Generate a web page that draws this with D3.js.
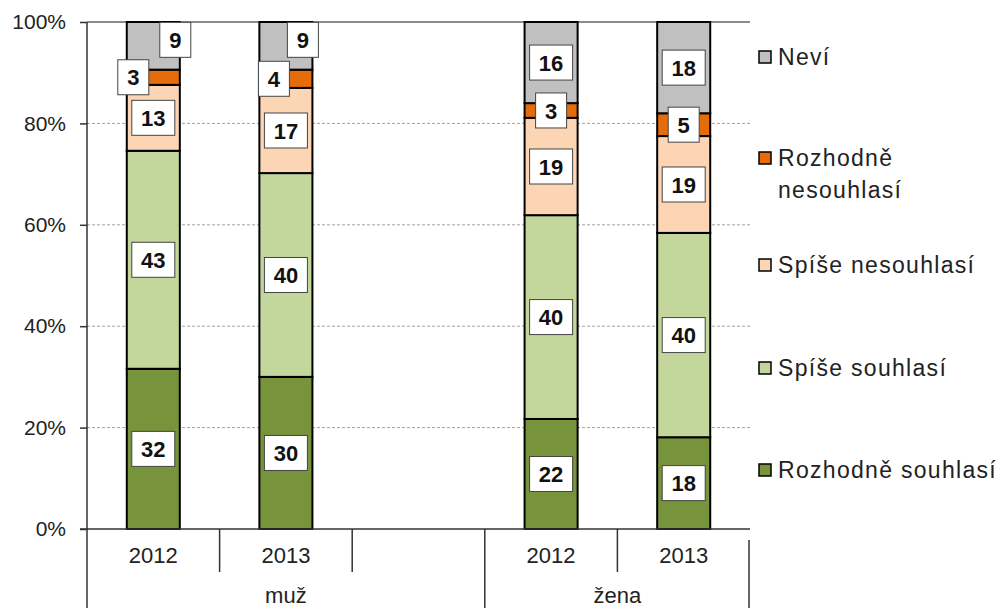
<!DOCTYPE html>
<html>
<head>
<meta charset="utf-8">
<script src="https://cdn.jsdelivr.net/npm/d3@7"></script>
<style>
  body { margin: 0; background: #fff; }
  text { font-family: "Liberation Sans", Arial, sans-serif; }
</style>
</head>
<body>
<svg id="chart" width="1003" height="608"></svg>
<script>
// categories
const groups = ['muž', 'žena'];
const years = ['2012', '2013'];
const slots = ['muž 2012', 'muž 2013', 'gap', 'žena 2012', 'žena 2013'];
const barSlots = ['muž 2012', 'muž 2013', 'žena 2012', 'žena 2013'];

// series (bottom to top), percent values per bar
const seriesNames = ['Rozhodně souhlasí', 'Spíše souhlasí', 'Spíše nesouhlasí', 'Rozhodně nesouhlasí', 'Neví'];
const rozhodneSouhlasi = [31.6, 30.0, 21.7, 18.1];
const spiseSouhlasi = [43.0, 40.2, 40.2, 40.3];
const spiseNesouhlasi = [13.0, 16.8, 19.2, 19.1];
const rozhodneNesouhlasi = [3.0, 3.6, 2.9, 4.5];
const nevi = [9.4, 9.4, 16.0, 18.0];
const seriesValues = [rozhodneSouhlasi, spiseSouhlasi, spiseNesouhlasi, rozhodneNesouhlasi, nevi];
const colors = ['#77933C', '#C3D69B', '#FCD5B5', '#E46C0A', '#C0C0C0'];

const yTicks = [0, 20, 40, 60, 80, 100];

// manual nudges for small labels that Excel moved aside: [series][bar] -> [dx, dy]
const nudges = { '4-0': [22, -6], '3-0': [-20, 0], '4-1': [17, -6], '3-1': [-12, 0] };

const svg = d3.select('#chart');
const plotLeft = 87, plotRight = 750, plotTop = 22, plotBottom = 529;

const x = d3.scaleBand().domain(slots).range([plotLeft, plotRight]).paddingInner(0.6).paddingOuter(0.3);
const y = d3.scaleLinear().domain([0, 100]).range([plotBottom, plotTop]);

// gridlines
svg.append('g')
  .selectAll('line')
  .data(yTicks.filter(t => t > 0 && t < 100))
  .enter().append('line')
  .attr('x1', plotLeft).attr('x2', plotRight)
  .attr('y1', d => y(d)).attr('y2', d => y(d))
  .attr('stroke', '#a0a0a0').attr('stroke-width', 1).attr('stroke-dasharray', '3,2');

svg.append('line')
  .attr('x1', plotLeft).attr('x2', plotRight)
  .attr('y1', y(100)).attr('y2', y(100))
  .attr('stroke', '#8c8c8c').attr('stroke-width', 2);

// y axis
const yAxis = svg.append('g')
  .attr('transform', `translate(${plotLeft},0)`)
  .call(d3.axisLeft(y).tickValues(yTicks).tickFormat(d => d + '%').tickSize(7).tickPadding(14));
yAxis.select('.domain').remove();
yAxis.selectAll('.tick line').attr('stroke', '#333').attr('stroke-width', 1.5);
yAxis.selectAll('.tick text').attr('font-size', 21).attr('fill', '#222')
  .attr('font-family', '"Liberation Sans", Arial, sans-serif');

svg.append('line')
  .attr('x1', plotLeft).attr('x2', plotLeft).attr('y1', plotTop).attr('y2', 608)
  .attr('stroke', '#333').attr('stroke-width', 1.5);

// stacked bars
const stacked = barSlots.map((slot, bi) => {
  let acc = 0;
  return seriesValues.map((vals, si) => {
    const seg = { slot, bi, si, y0: acc, y1: acc + vals[bi], v: vals[bi] };
    acc += vals[bi];
    return seg;
  });
}).flat();

svg.append('g')
  .selectAll('rect')
  .data(stacked)
  .enter().append('rect')
  .attr('x', d => x(d.slot))
  .attr('width', x.bandwidth())
  .attr('y', d => y(d.y1))
  .attr('height', d => y(d.y0) - y(d.y1))
  .attr('fill', d => colors[d.si])
  .attr('stroke', '#000').attr('stroke-width', 2);

// baseline
svg.append('line')
  .attr('x1', 80).attr('x2', plotRight).attr('y1', plotBottom).attr('y2', plotBottom)
  .attr('stroke', '#333').attr('stroke-width', 1.5);

// data labels
const labels = svg.append('g').selectAll('g')
  .data(stacked)
  .enter().append('g')
  .attr('transform', d => {
    const n = nudges[d.si + '-' + d.bi] || [0, 0];
    return `translate(${x(d.slot) + x.bandwidth() / 2 + n[0]},${y((d.y0 + d.y1) / 2) + n[1]})`;
  });
labels.append('rect')
  .attr('x', d => -(String(Math.round(d.v)).length * 12 + 19) / 2)
  .attr('width', d => String(Math.round(d.v)).length * 12 + 19)
  .attr('y', -17.5).attr('height', 35)
  .attr('fill', '#fff').attr('stroke', '#444').attr('stroke-width', 1);
labels.append('text')
  .attr('text-anchor', 'middle').attr('dy', '0.37em')
  .attr('font-size', 22).attr('font-weight', 'bold').attr('fill', '#111')
  .text(d => Math.round(d.v));

// category axis: years
const catY = 555;
svg.append('g').selectAll('text')
  .data(slots.filter(s => s !== 'gap'))
  .enter().append('text')
  .attr('x', d => x(d) + x.bandwidth() / 2)
  .attr('y', catY).attr('dy', '0.36em')
  .attr('text-anchor', 'middle').attr('font-size', 22).attr('fill', '#222')
  .text(d => d.split(' ')[1]);

const step = x.step();
const slotEdge = i => plotLeft + i * step;
svg.append('g').selectAll('line')
  .data([1, 2, 4])
  .enter().append('line')
  .attr('x1', d => slotEdge(d)).attr('x2', d => slotEdge(d))
  .attr('y1', plotBottom).attr('y2', 572)
  .attr('stroke', '#333').attr('stroke-width', 1.5);
svg.append('line')
  .attr('x1', slotEdge(3)).attr('x2', slotEdge(3)).attr('y1', plotBottom).attr('y2', 608)
  .attr('stroke', '#333').attr('stroke-width', 1.5);
svg.append('line')
  .attr('x1', slotEdge(5) - 1).attr('x2', slotEdge(5) - 1).attr('y1', 540).attr('y2', 608)
  .attr('stroke', '#333').attr('stroke-width', 1.5);

// group labels
const groupSpans = [[0, 3], [3, 5]];
svg.append('g').selectAll('text')
  .data(groups)
  .enter().append('text')
  .attr('x', (d, i) => (slotEdge(groupSpans[i][0]) + slotEdge(groupSpans[i][1])) / 2)
  .attr('y', 595).attr('dy', '0.36em')
  .attr('text-anchor', 'middle').attr('font-size', 22).attr('fill', '#222')
  .text(d => d);

// legend (top to bottom)
const legendItems = [
  { si: 4, lines: ['Neví'], cy: 57 },
  { si: 3, lines: ['Rozhodně', 'nesouhlasí'], cy: 158 },
  { si: 2, lines: ['Spíše nesouhlasí'], cy: 265 },
  { si: 1, lines: ['Spíše souhlasí'], cy: 368 },
  { si: 0, lines: ['Rozhodně souhlasí'], cy: 470 }
];
const legend = svg.append('g').selectAll('g')
  .data(legendItems)
  .enter().append('g')
  .attr('transform', d => `translate(758,${d.cy})`);
legend.append('rect')
  .attr('x', 1).attr('y', -6).attr('width', 12).attr('height', 12)
  .attr('fill', d => colors[d.si]).attr('stroke', '#000').attr('stroke-width', 1.5);
legend.append('text')
  .attr('x', 20).attr('font-size', 23).attr('fill', '#222').attr('letter-spacing', 1.3)
  .selectAll('tspan')
  .data(d => d.lines)
  .enter().append('tspan')
  .attr('x', 20).attr('y', (d, i) => i * 32).attr('dy', '0.36em')
  .text(d => d);
</script>
</body>
</html>
